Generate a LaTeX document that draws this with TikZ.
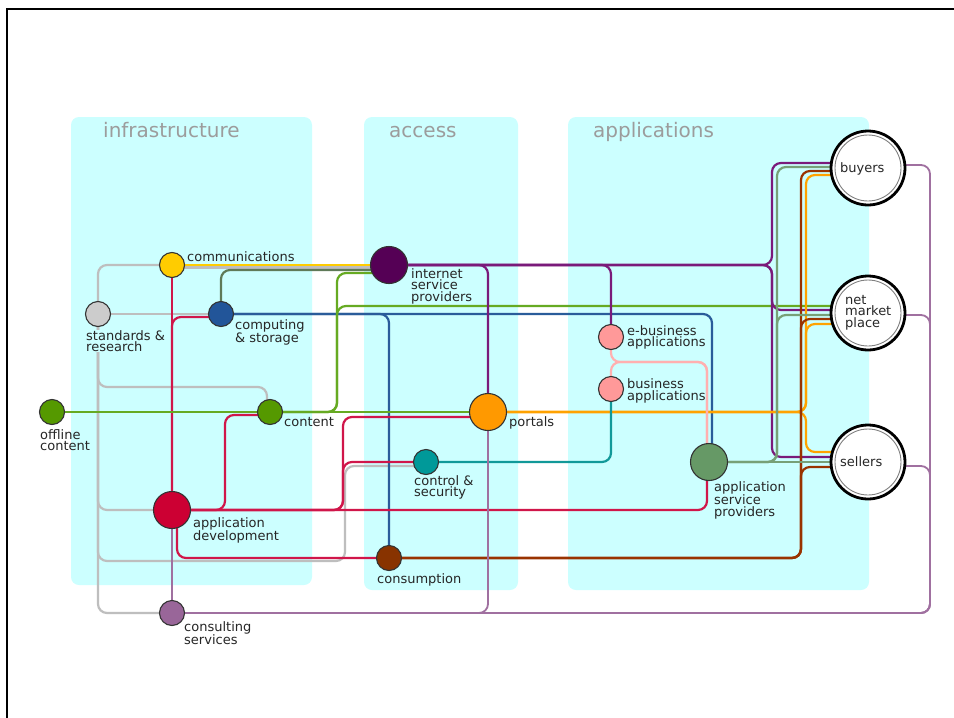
\documentclass[tikz,border=0pt]{standalone}
\usepackage{fontspec}
\setmainfont{DejaVu Sans}

\pgfdeclarelayer{panels}
\pgfdeclarelayer{lines}
\pgfsetlayers{panels,lines,main}

% palette
\definecolor{panel}{HTML}{CCFFFF}
\definecolor{titlegray}{HTML}{9C9C9C}
\definecolor{ringline}{HTML}{333333}
\definecolor{fyellow}{HTML}{FFCC00}
\definecolor{fgray}{HTML}{CCCCCC}
\definecolor{fblue}{HTML}{225599}
\definecolor{fpurple}{HTML}{550055}
\definecolor{fgreen}{HTML}{559900}
\definecolor{forange}{HTML}{FF9900}
\definecolor{fpink}{HTML}{FF9999}
\definecolor{fteal}{HTML}{009999}
\definecolor{fred}{HTML}{CC0033}
\definecolor{fbrown}{HTML}{883300}
\definecolor{fconsult}{HTML}{996699}
\definecolor{fasp}{HTML}{669966}
% line colours
\definecolor{cgray}{HTML}{BEBEBE}
\definecolor{cyellow}{HTML}{FFCC00}
\definecolor{colive}{HTML}{5F7A58}
\definecolor{cblue}{HTML}{2A5C9A}
\definecolor{cpurple}{HTML}{7A1A7A}
\definecolor{cgreen}{HTML}{66AA22}
\definecolor{corange}{HTML}{FFA200}
\definecolor{cpink}{HTML}{FFB0B0}
\definecolor{cteal}{HTML}{119999}
\definecolor{cred}{HTML}{D0164A}
\definecolor{cbrown}{HTML}{993300}
\definecolor{cconsult}{HTML}{A070A0}
\definecolor{casp}{HTML}{77A077}

\begin{document}
\begin{tikzpicture}[x=1pt,y=-1pt,
  stop/.style={circle, draw=ringline, line width=1.1pt, inner sep=0pt, minimum size=25pt},
  hub/.style={stop, minimum size=37pt},
  market/.style={circle, draw=black, line width=2.8pt, fill=white, inner sep=0pt,
    minimum size=74pt,
    path picture={\draw[gray, line width=0.9pt] (path picture bounding box.center) circle (33pt);}},
  lbl/.style={anchor=north west, inner sep=0pt, align=left,
    font=\fontsize{13}{11.9}\selectfont, text=black!85},
  ttl/.style={anchor=base west, inner sep=0pt, font=\fontsize{20}{20}\selectfont, text=titlegray},
  ln/.style={line width=2.2pt, rounded corners=9pt},
  thin ln/.style={line width=1.8pt, rounded corners=9pt}]

\useasboundingbox (0,0) rectangle (954,718);

% paper, frame and the three column panels
\begin{pgfonlayer}{panels}
  \fill[white] (0,0) rectangle (954,718);
  \fill[panel, rounded corners=8pt] (71,117) rectangle (312,585);
  \fill[panel, rounded corners=8pt] (364,117) rectangle (518,590);
  \fill[panel, rounded corners=8pt] (568,117) rectangle (869,590);
  \draw[black, line width=2.5pt] (7,718) -- (7,9) -- (954,9);
\end{pgfonlayer}

\node[ttl] (t1) at (103,137) {infrastructure};
\node[ttl] (t2) at (389,137) {access};
\node[ttl] (t3) at (593,137) {applications};

% stations
\node[stop, fill=fyellow] (comm) at (172,265) {};
\node[stop, fill=fgray] (std) at (98,314) {};
\node[stop, fill=fblue] (comp) at (221,314) {};
\node[hub, fill=fpurple] (isp) at (389,265) {};
\node[stop, fill=fgreen] (offline) at (52,412) {};
\node[stop, fill=fgreen] (content) at (270,412) {};
\node[hub, fill=forange] (portals) at (488,412) {};
\node[stop, fill=fpink] (ebiz) at (611,337) {};
\node[stop, fill=fpink] (biz) at (611,389) {};
\node[stop, fill=fteal] (ctrl) at (426,462) {};
\node[hub, fill=fred] (appdev) at (172,510) {};
\node[stop, fill=fbrown] (cons) at (389,558) {};
\node[stop, fill=fconsult] (consult) at (172,613) {};
\node[hub, fill=fasp] (asp) at (709,462) {};
\node[market] (buyers) at (868,168) {};
\node[market] (net) at (868,313) {};
\node[market] (sellers) at (868,462) {};

% station names
\node[lbl] (lcomm) at (187,251) {communications};
\node[lbl, fill=panel] (lstd) at (86,330) {standards \&\\research};
\node[lbl] (lcomp) at (235,319.5) {computing\\\& storage};
\node[lbl] (lisp) at (411,268) {internet\\service\\providers};
\node[lbl] (lebiz) at (627,325) {e-business\\applications};
\node[lbl] (lbiz) at (627,378.5) {business\\applications};
\node[lbl] (loffline) at (40,429) {offline\\content};
\node[lbl] (lcontent) at (284,417.4) {content};
\node[lbl] (lportals) at (509,416) {portals};
\node[lbl] (lctrl) at (414,475) {control \&\\security};
\node[lbl] (lappdev) at (193,517) {application\\development};
\node[lbl] (lcons) at (377,573.4) {consumption};
\node[lbl] (lconsult) at (184,621) {consulting\\services};
\node[lbl] (lasp) at (714,481) {application\\service\\providers};
\node[lbl] (lbuyers) at (840,162.4) {buyers};
\node[lbl] (lnet) at (845,294.7) {net\\market\\place};
\node[lbl] (lsellers) at (840,456) {sellers};

\begin{pgfonlayer}{lines}
  % standards & research
  \draw[ln, cgray] (std.center) |- (comm.center);
  \draw[ln, cgray] ([yshift=-2.5pt]comm.center) -- ([yshift=-2.5pt]isp.center);
  \draw[ln, cgray] (std.center) -- (comp.center);
  \draw[ln, cgray] (std.center) -- (98,387) -| ([xshift=-3pt]content.center);
  \draw[ln, cgray] (std.center) |- (appdev.center);
  \draw[ln, cgray] (std.center) |- (345,561) |- ([yshift=-4pt]ctrl.center);
  \draw[ln, cgray] (std.center) |- (consult.center);

  % communications
  \draw[ln, cyellow] (comm.center) -- (isp.center);
  \draw[ln, cred] (comm.center) -- (appdev.center);

  % computing & storage
  \draw[ln, colive] (comp.center) |- ([yshift=-5pt]isp.center);
  \draw[ln, cblue] (comp.center) -| ([xshift=3pt]asp.center);
  \draw[ln, cblue] (comp.center) -| (cons.center);
  \draw[ln, cred] ([yshift=-3pt]comp.center) -| (appdev.center);

  % content
  \draw[ln, cgreen] (offline.center) -- (content.center);
  \draw[ln, cgreen] (content.center) -- (portals.center);
  \draw[ln, cgreen] (content.center) -- (337,412) |- ([yshift=-8pt]isp.center);
  \draw[ln, cgreen] (content.center) -- (337,412) |- ([yshift=7pt]net.center);

  % internet service providers
  \draw[ln, cpurple] (isp.center) -| (portals.center);
  \draw[ln, cpurple] (isp.center) -| (ebiz.center);
  \draw[ln, cpurple] (isp.center) -- (772,265) |- ([yshift=5pt]buyers.center);
  \draw[ln, cpurple] (isp.center) -- (772,265) |- ([yshift=3pt]net.center);
  \draw[ln, cpurple] (isp.center) -- (772,265) |- ([yshift=5pt]sellers.center);

  % portals
  \draw[ln, corange] (portals.center) -- (806,412) |- ([yshift=-7pt]buyers.center);
  \draw[ln, corange] (portals.center) -- (806,412) |- ([yshift=-11pt]net.center);
  \draw[ln, corange] (portals.center) -- (806,412) |- ([yshift=10pt]sellers.center);

  % consumption
  \draw[ln, cbrown] (cons.center) -- (801,558) |- ([yshift=-5pt]sellers.center);
  \draw[ln, cbrown] (cons.center) -- (801,558) |- ([yshift=-6pt]net.center);
  \draw[ln, cbrown] (cons.center) -- (801,558) |- ([yshift=-3pt]buyers.center);

  % application service providers
  \draw[ln, casp] (asp.center) -- (sellers.center);
  \draw[ln, casp] (asp.center) -- (777,462) |- ([yshift=1pt]buyers.center);
  \draw[ln, casp] (asp.center) -- (777,462) |- ([yshift=-2pt]net.center);

  % e-business and business applications
  \draw[ln, cpink] (ebiz.center) |- (707,362) -- ([xshift=-2pt]asp.center);
  \draw[ln, cpink] (biz.center) |- (707,362) -- ([xshift=-2pt]asp.center);

  % control & security
  \draw[ln, cteal] (ctrl.center) -| (biz.center);

  % application development
  \draw[ln, cred] (appdev.center) -- (225,510) |- ([yshift=-3pt]content.center);
  \draw[ln, cred] (appdev.center) -- (343,510) |- ([yshift=-5pt]portals.center);
  \draw[ln, cred] (appdev.center) -- (343,510) |- (ctrl.center);
  \draw[ln, cred] (appdev.center) -| ([xshift=-2pt]asp.center);
  \draw[ln, cred] ([xshift=5pt]appdev.center) |- (cons.center);

  % consulting services
  \draw[thin ln, cconsult] (consult.center) -- (appdev.center);
  \draw[thin ln, cconsult] (consult.center) -| (portals.center);
  \draw[thin ln, cconsult] (consult.center) -- (930,613) |- ([yshift=3pt]buyers.center);
  \draw[thin ln, cconsult] (consult.center) -- (930,613) |- ([yshift=-2pt]net.center);
  \draw[thin ln, cconsult] (consult.center) -- (930,613) |- ([yshift=-4pt]sellers.center);
\end{pgfonlayer}
\end{tikzpicture}
\end{document}
